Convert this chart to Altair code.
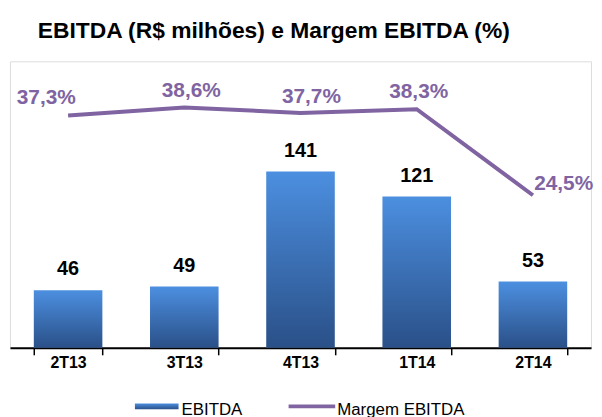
import altair as alt
import pandas as pd

# ---- data ----
quarters = ["2T13", "3T13", "4T13", "1T14", "2T14"]
ebitda = [46, 49, 141, 121, 53]
margem = [37.3, 38.6, 37.7, 38.3, 24.5]
legend_labels = ["EBITDA", "Margem EBITDA"]
title_text = ["EBITDA (R$ milhões) e Margem EBITDA (%)"]

df = pd.DataFrame({"q": quarters, "ebitda": ebitda, "margem": margem})
df["ebitda_lbl"] = df["ebitda"].astype(str)
df["margem_lbl"] = df["margem"].map(lambda v: f"{v:.1f}%".replace(".", ","))

# ---- styling ----
FONT = "Liberation Sans"
PURPLE = "#8064A2"
W, H = 586, 289
grad = alt.Gradient(
    gradient="linear",
    stops=[alt.GradientStop(color="#4C8FE0", offset=0),
           alt.GradientStop(color="#2A5088", offset=1)],
    x1=0, x2=0, y1=0, y2=1,
)

x_enc = alt.X(
    "q:N", sort=quarters, title=None,
    scale=alt.Scale(paddingInner=0.41, paddingOuter=0.205),
    axis=alt.Axis(
        domainColor="black", domainWidth=2, tickColor="black", tickWidth=1.5,
        tickSize=7, tickBand="extent", labelAngle=0, labelFont=FONT,
        labelFontSize=16, labelFontWeight="bold", labelColor="black",
        labelPadding=0, grid=False,
    ),
)
y_bar = alt.Y("ebitda:Q", axis=None, scale=alt.Scale(domain=[0, 229]))
y_line = alt.Y("margem:Q", axis=None, scale=alt.Scale(domain=[0, 46]))

base = alt.Chart(df)

bars = base.mark_bar(color=grad).encode(x=x_enc, y=y_bar)
bar_text = base.mark_text(
    font=FONT, fontSize=20, fontWeight="bold", color="black",
    baseline="middle", dy=-21,
).encode(x=x_enc, y=y_bar, text="ebitda_lbl:N")

line = base.mark_line(color=PURPLE, strokeWidth=4).encode(x=x_enc, y=y_line)

# label offsets (dx, dy) relative to each point, as placed in the reference
offsets = [(-22, -18), (7, -16), (11, -16), (2, -17), (31, -11)]
line_texts = []
for qname, (ox, oy) in zip(quarters, offsets):
    line_texts.append(
        base.transform_filter(alt.datum.q == qname).mark_text(
            font=FONT, fontSize=21, fontWeight="bold", color=PURPLE,
            baseline="middle", align="center", dx=ox, dy=oy,
        ).encode(x=x_enc, y=y_line, text="margem_lbl:N")
    )

# title as a text mark
title = alt.Chart(pd.DataFrame({"t": title_text})).mark_text(
    font=FONT, fontSize=23, fontWeight="bold", color="black",
    align="left", baseline="middle",
).encode(x=alt.value(28), y=alt.value(-30), text="t:N")

# manual legend
leg_df = pd.DataFrame({"label": legend_labels})
leg = alt.Chart(leg_df)
leg_bar = leg.transform_filter(alt.datum.label == legend_labels[0]).mark_rect(color=grad).encode(
    x=alt.value(126), x2=alt.value(170), y=alt.value(H + 56), y2=alt.value(H + 62))
leg_line = leg.transform_filter(alt.datum.label == legend_labels[1]).mark_rule(
    color=PURPLE, strokeWidth=4).encode(
    x=alt.value(281), x2=alt.value(328), y=alt.value(H + 59))
leg_t1 = leg.transform_filter(alt.datum.label == legend_labels[0]).mark_text(
    font=FONT, fontSize=17, align="left", baseline="middle", color="black").encode(
    x=alt.value(173), y=alt.value(H + 63), text="label:N")
leg_t2 = leg.transform_filter(alt.datum.label == legend_labels[1]).mark_text(
    font=FONT, fontSize=17, align="left", baseline="middle", color="black").encode(
    x=alt.value(330), y=alt.value(H + 63), text="label:N")

chart = alt.layer(
    alt.layer(bars, bar_text),
    alt.layer(line, *line_texts),
    title, leg_bar, leg_line, leg_t1, leg_t2,
).resolve_scale(y="independent").properties(
    width=W, height=H,
    padding={"left": 2, "top": 11, "right": 0, "bottom": 0},
).configure_view(stroke=None).configure(background="white")

chart.save("out.html", embed_options={"renderer": "svg", "actions": False})
